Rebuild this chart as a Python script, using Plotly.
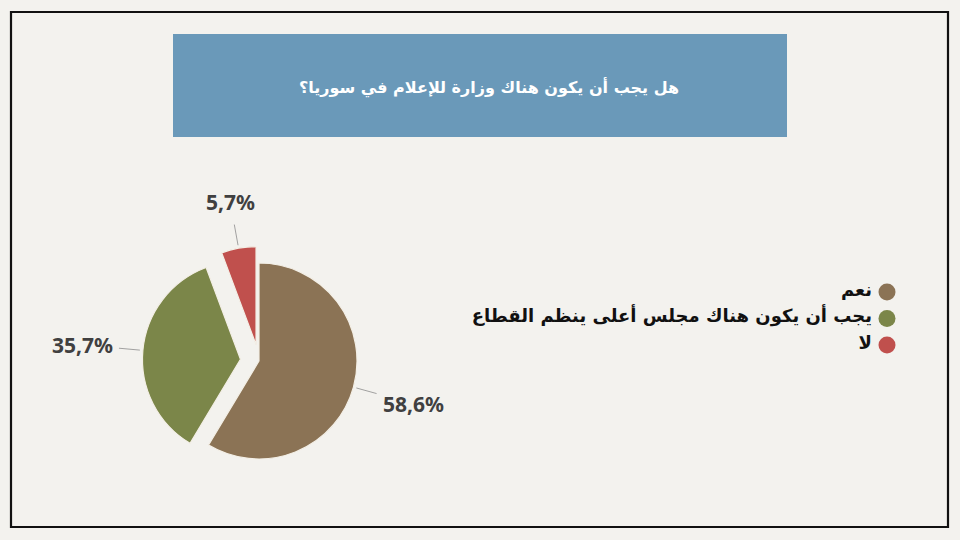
import math
import plotly.graph_objects as go

# ---- data ----
title_text = "هل يجب أن يكون هناك وزارة للإعلام في سوريا؟"
categories = ["نعم", "يجب أن يكون هناك مجلس أعلى ينظم القطاع", "لا"]
values = [58.6, 35.7, 5.7]
value_labels = ["58,6%", "35,7%", "5,7%"]
colors = ["#8B7355", "#7B8649", "#C0504D"]
pulls = [0.0, 0.19, 0.17]

W, H = 960, 540
cx, cy = 259, 361          # pie centre in pixels
r = 98                     # pie radius in pixels
maxpull = max(pulls)
half = r * (1 + maxpull)

fig = go.Figure()

fig.add_trace(go.Pie(
    labels=categories, values=values, sort=False, direction="clockwise",
    rotation=0, pull=pulls, textinfo="none", hoverinfo="label+percent",
    marker=dict(colors=colors, line=dict(color="#f3efe6", width=1.2)),
    domain=dict(x=[(cx - half) / W, (cx + half) / W],
                y=[(H - cy - half) / H, (H - cy + half) / H]),
    showlegend=False,
))

# ---- value labels with leader lines, placed from the data angles ----
total = sum(values)
cum = 0.0
for v, lab, p in zip(values, value_labels, pulls):
    mid = (cum + v / 2) / total * 2 * math.pi
    cum += v
    dx, dy = math.sin(mid), -math.cos(mid)
    rr = r * (1 + p)
    x0, y0 = cx + dx * (rr + 3), cy + dy * (rr + 3)
    x1, y1 = cx + dx * (rr + 24), cy + dy * (rr + 24)
    fig.add_shape(type="line", xref="x", yref="y", x0=x0, y0=y0, x1=x1, y1=y1,
                  line=dict(color="#8c8c8c", width=0.8))
    off = 4 + abs(dx) * 32 + abs(dy) * 13
    tx, ty = x1 + dx * off, y1 + dy * off
    fig.add_annotation(x=tx, y=ty, xref="x", yref="y", text=f"<b>{lab}</b>",
                       showarrow=False, xanchor="center", yanchor="middle",
                       font=dict(family="Noto Sans", size=21, color="#404040"))

# ---- legend (RTL: markers on the right of the text) ----
leg_x = 887
leg_y0, leg_dy = 292, 26.5
leg_y = [leg_y0 + i * leg_dy for i in range(len(categories))]
fig.add_trace(go.Scatter(
    x=[leg_x] * len(categories), y=leg_y, mode="markers",
    marker=dict(size=17, color=colors),
    hoverinfo="skip", showlegend=False, cliponaxis=False,
))
fig.add_trace(go.Scatter(
    x=[leg_x - 15] * len(categories), y=[y - 1 for y in leg_y], mode="text",
    text=[f"<b>{c}</b>" for c in categories],
    textposition="middle left",
    textfont=dict(family="DejaVu Sans", size=18, color="#111111"),
    hoverinfo="skip", showlegend=False, cliponaxis=False,
))

# ---- title box ----
fig.add_shape(type="rect", xref="x", yref="y", x0=173, y0=34, x1=787, y1=137,
              fillcolor="#6A99B9", line=dict(width=0), layer="below")
fig.add_annotation(x=489, y=87, xref="x", yref="y", text=f"<b>{title_text}</b>",
                   showarrow=False,
                   font=dict(family="DejaVu Sans", size=16, color="#ffffff"))

# ---- frame ----
fig.add_shape(type="rect", xref="x", yref="y", x0=11, y0=12, x1=948, y1=527,
              line=dict(color="#111111", width=2.2), fillcolor="rgba(0,0,0,0)")

fig.update_layout(
    width=W, height=H, margin=dict(l=0, r=0, t=0, b=0),
    paper_bgcolor="#f3f2ee", plot_bgcolor="rgba(0,0,0,0)",
    xaxis=dict(range=[0, W], visible=False, fixedrange=True, domain=[0, 1]),
    yaxis=dict(range=[H, 0], visible=False, fixedrange=True, domain=[0, 1]),
    showlegend=False,
)

fig.write_html(
    "out.html",
    config={"displayModeBar": False},
    post_script="document.body.style.margin='0';document.body.style.overflow='hidden';"
                "document.body.style.background='#f3f2ee';",
)
